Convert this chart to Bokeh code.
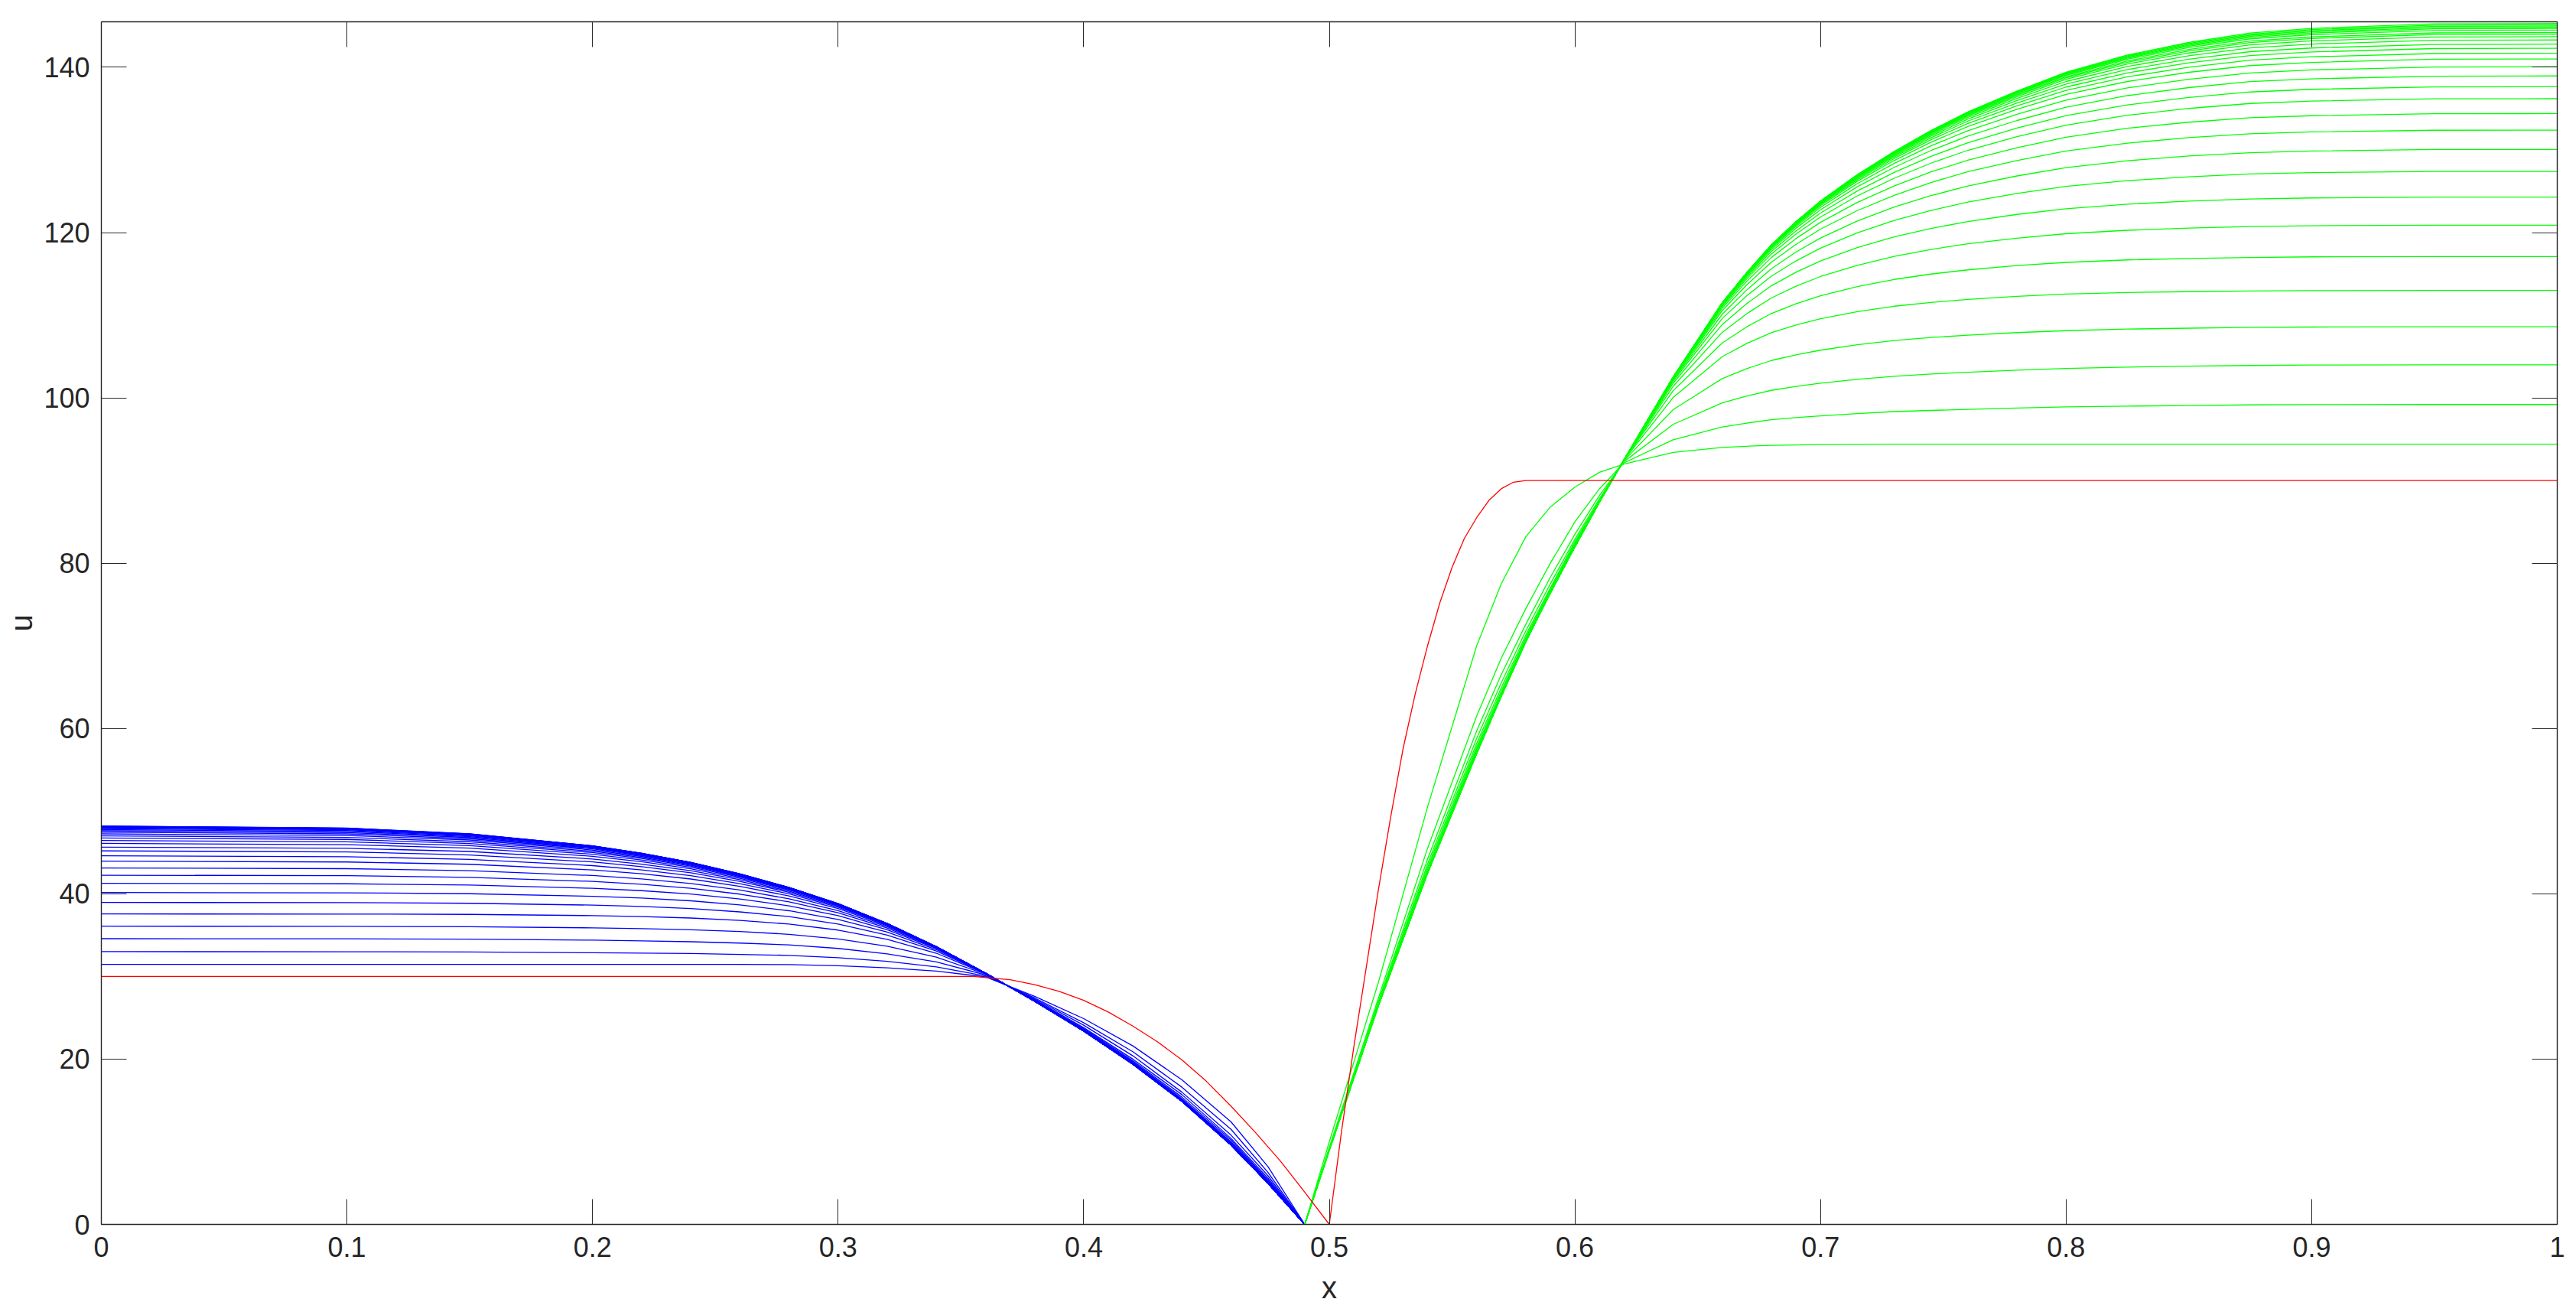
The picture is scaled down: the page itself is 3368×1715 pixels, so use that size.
from bokeh.plotting import figure
from bokeh.models import Range1d, FixedTicker, LinearAxis, CustomLabelingPolicy
from bokeh.embed import file_html
from bokeh.resources import INLINE

# ---------------- data ----------------
x_blue = [0, 0.1, 0.15, 0.2, 0.22, 0.24, 0.26, 0.28, 0.30, 0.32, 0.34, 0.36,
          0.38, 0.40, 0.42, 0.44, 0.46, 0.475, 0.49]
x_green = [0.49, 0.50, 0.52, 0.54, 0.56, 0.57, 0.58, 0.59, 0.60, 0.61,
           0.62, 0.64, 0.66, 0.67, 0.68, 0.69, 0.70, 0.715, 0.73, 0.745, 0.76, 0.78, 0.80,
           0.825, 0.85, 0.875, 0.90, 0.95, 1.0]

x_red = [0, 0.355, 0.37, 0.38, 0.39, 0.40, 0.41, 0.42, 0.43, 0.44, 0.45, 0.46, 0.47, 0.48, 0.49, 0.50,
         0.505, 0.51, 0.515, 0.52, 0.525, 0.53, 0.535, 0.54, 0.545, 0.55, 0.555, 0.56, 0.565, 0.57,
         0.575, 0.58, 1.0]
u_red = [30, 30, 29.6, 29.0, 28.2, 27.1, 25.7, 24.0, 22.1, 19.9, 17.3, 14.3, 11.1, 7.7, 3.9, 0,
         11.3, 21.5, 31.0, 40.5, 49.3, 57.5, 64.2, 70.0, 75.2, 79.5, 83.0, 85.5, 87.6, 89.0,
         89.8, 90, 90]

blue_01 = [31.45, 31.45, 31.45, 31.45, 31.45, 31.45, 31.45, 31.44, 31.3, 31.05, 30.65, 29.95, 27.6, 24.9, 21.6, 17.5, 12.4, 7.0, 0]
blue_02 = [33.0, 32.99, 32.96, 32.87, 32.83, 32.77, 32.67, 32.55, 32.26, 31.82, 31.15, 30.06, 27.4, 24.4, 20.9, 16.6, 11.5, 6.3, 0]
blue_03 = [34.57, 34.55, 34.51, 34.39, 34.31, 34.2, 34.04, 33.81, 33.39, 32.74, 31.75, 30.19, 27.3, 24.1, 20.4, 16.0, 10.8, 5.9, 0]
blue_04 = [36.08, 36.06, 36.02, 35.88, 35.79, 35.65, 35.43, 35.1, 34.53, 33.66, 32.33, 30.29, 27.2, 23.8, 20.0, 15.7, 10.4, 5.6, 0]
blue_05 = [37.56, 37.55, 37.51, 37.36, 37.24, 37.07, 36.78, 36.34, 35.61, 34.48, 32.81, 30.35, 27.1, 23.7, 19.8, 15.4, 10.2, 5.4, 0]
blue_06 = [38.95, 38.93, 38.85, 38.63, 38.46, 38.21, 37.81, 37.24, 36.34, 35.0, 33.07, 30.38, 27.1, 23.6, 19.7, 15.2, 10.0, 5.3, 0]
blue_07 = [40.15, 40.12, 40.01, 39.7, 39.48, 39.15, 38.66, 37.95, 36.9, 35.37, 33.25, 30.39, 27.05, 23.5, 19.6, 15.1, 9.85, 5.2, 0]
blue_08 = [41.26, 41.21, 41.06, 40.66, 40.38, 39.97, 39.37, 38.54, 37.35, 35.65, 33.37, 30.39, 27.0, 23.5, 19.5, 15.05, 9.8, 5.1, 0]
blue_09 = [42.25, 42.19, 41.99, 41.5, 41.15, 40.67, 39.96, 39.02, 37.7, 35.86, 33.45, 30.4, 27.0, 23.45, 19.5, 15.0, 9.7, 5.1, 0]
blue_10 = [43.12, 43.04, 42.8, 42.21, 41.8, 41.24, 40.45, 39.39, 37.97, 36.01, 33.5, 30.4, 27.0, 23.45, 19.45, 14.95, 9.7, 5.05, 0]
blue_11 = [43.95, 43.85, 43.57, 42.89, 42.42, 41.79, 40.9, 39.74, 38.21, 36.14, 33.54, 30.4, 27.0, 23.4, 19.45, 14.95, 9.65, 5.05, 0]
blue_12 = [44.6, 44.49, 44.17, 43.41, 42.89, 42.2, 41.23, 39.99, 38.37, 36.23, 33.56, 30.4, 27.0, 23.4, 19.4, 14.9, 9.6, 5.0, 0]
blue_13 = [45.19, 45.07, 44.7, 43.86, 43.29, 42.54, 41.5, 40.19, 38.49, 36.28, 33.58, 30.4, 27.0, 23.4, 19.4, 14.9, 9.6, 5.0, 0]
blue_14 = [45.65, 45.51, 45.12, 44.21, 43.59, 42.79, 41.7, 40.32, 38.58, 36.32, 33.59, 30.4, 27.0, 23.4, 19.4, 14.9, 9.6, 5.0, 0]
blue_15 = [46.1, 45.95, 45.52, 44.54, 43.88, 43.03, 41.88, 40.45, 38.65, 36.35, 33.59, 30.4, 27.0, 23.4, 19.4, 14.9, 9.6, 5.0, 0]
blue_16 = [46.45, 46.29, 45.83, 44.79, 44.1, 43.21, 42.01, 40.53, 38.7, 36.37, 33.6, 30.4, 27.0, 23.4, 19.4, 14.9, 9.6, 5.0, 0]
blue_17 = [46.75, 46.58, 46.09, 44.99, 44.27, 43.35, 42.11, 40.59, 38.73, 36.38, 33.6, 30.4, 27.0, 23.4, 19.4, 14.9, 9.6, 5.0, 0]
blue_18 = [47.0, 46.82, 46.3, 45.15, 44.4, 43.45, 42.18, 40.64, 38.75, 36.39, 33.6, 30.4, 27.0, 23.4, 19.4, 14.9, 9.6, 5.0, 0]
blue_19 = [47.25, 47.06, 46.51, 45.3, 44.52, 43.54, 42.24, 40.67, 38.77, 36.39, 33.6, 30.4, 27.0, 23.4, 19.4, 14.9, 9.6, 5.0, 0]
blue_20 = [47.45, 47.25, 46.67, 45.43, 44.62, 43.61, 42.29, 40.7, 38.78, 36.4, 33.6, 30.4, 27.0, 23.4, 19.4, 14.9, 9.6, 5.0, 0]
blue_21 = [47.62, 47.41, 46.81, 45.52, 44.69, 43.66, 42.32, 40.71, 38.79, 36.4, 33.6, 30.4, 27.0, 23.4, 19.4, 14.9, 9.6, 5.0, 0]
blue_22 = [47.76, 47.54, 46.92, 45.6, 44.75, 43.7, 42.35, 40.73, 38.8, 36.4, 33.6, 30.4, 27.0, 23.4, 19.4, 14.9, 9.6, 5.0, 0]
blue_23 = [47.88, 47.65, 47.01, 45.66, 44.8, 43.73, 42.37, 40.74, 38.8, 36.4, 33.6, 30.4, 27.0, 23.4, 19.4, 14.9, 9.6, 5.0, 0]
blue_24 = [47.97, 47.74, 47.08, 45.7, 44.83, 43.76, 42.38, 40.74, 38.8, 36.4, 33.6, 30.4, 27.0, 23.4, 19.4, 14.9, 9.6, 5.0, 0]
blue_25 = [48.04, 47.8, 47.14, 45.73, 44.85, 43.77, 42.39, 40.75, 38.8, 36.4, 33.6, 30.4, 27.0, 23.4, 19.4, 14.9, 9.6, 5.0, 0]
blue_26 = [48.1, 47.86, 47.18, 45.76, 44.87, 43.78, 42.4, 40.75, 38.8, 36.4, 33.6, 30.4, 27.0, 23.4, 19.4, 14.9, 9.6, 5.0, 0]
blue_27 = [48.14, 47.9, 47.21, 45.78, 44.88, 43.79, 42.4, 40.75, 38.8, 36.4, 33.6, 30.4, 27.0, 23.4, 19.4, 14.9, 9.6, 5.0, 0]
blue_28 = [48.17, 47.92, 47.23, 45.79, 44.89, 43.8, 42.4, 40.75, 38.8, 36.4, 33.6, 30.4, 27.0, 23.4, 19.4, 14.9, 9.6, 5.0, 0]
blue_29 = [48.19, 47.94, 47.24, 45.8, 44.9, 43.8, 42.4, 40.75, 38.8, 36.4, 33.6, 30.4, 27.0, 23.4, 19.4, 14.9, 9.6, 5.0, 0]
blue_30 = [48.2, 47.95, 47.25, 45.8, 44.9, 43.8, 42.4, 40.75, 38.8, 36.4, 33.6, 30.4, 27.0, 23.4, 19.4, 14.9, 9.6, 5.0, 0]

green_01 = [0, 10.0, 29.3, 50.5, 70.0, 77.5, 83.2, 86.8, 89.2, 91.0,
            92.0, 93.4, 94.0, 94.15, 94.25, 94.3, 94.35, 94.38, 94.4, 94.4, 94.4, 94.4, 94.4, 94.4, 94.4, 94.4, 94.4, 94.4, 94.4]
green_02 = [0, 9.3, 27.4, 45.5, 61.5, 68.5, 74.5, 80.0, 85.0, 89.0,
            92.14, 94.93, 96.47, 96.95, 97.35, 97.61, 97.83, 98.1, 98.34, 98.48, 98.61, 98.77, 98.9, 99.0, 99.08, 99.15, 99.18, 99.2, 99.2]
green_03 = [0, 9.2, 27.0, 44.2, 59.7, 66.5, 72.6, 78.3, 83.5, 88.2,
            92.29, 96.79, 99.4, 100.23, 100.91, 101.38, 101.77, 102.24, 102.62, 102.88, 103.1, 103.36, 103.56, 103.72, 103.83, 103.92, 103.97, 104.0, 104.0]
green_04 = [0, 9.1, 26.8, 43.6, 58.8, 65.5, 71.8, 77.5, 82.9, 87.8,
            92.41, 98.58, 102.33, 103.54, 104.52, 105.2, 105.77, 106.42, 106.93, 107.3, 107.58, 107.9, 108.13, 108.32, 108.43, 108.53, 108.57, 108.6, 108.6]
green_05 = [0, 9.05, 26.7, 43.2, 58.2, 64.9, 71.3, 77.0, 82.6, 87.6,
            92.47, 100.05, 104.98, 106.59, 107.89, 108.82, 109.57, 110.43, 111.09, 111.55, 111.92, 112.28, 112.56, 112.75, 112.85, 112.94, 112.98, 113.0, 113.0]
green_06 = [0, 9.0, 26.6, 42.9, 57.8, 64.5, 71.0, 76.8, 82.4, 87.5,
            92.49, 100.85, 106.65, 108.6, 110.21, 111.39, 112.35, 113.47, 114.33, 114.98, 115.49, 116.0, 116.39, 116.69, 116.86, 116.99, 117.06, 117.1, 117.1]
green_07 = [0, 9.0, 26.55, 42.75, 57.5, 64.2, 70.8, 76.6, 82.25, 87.45,
            92.49, 101.4, 107.93, 110.19, 112.09, 113.51, 114.68, 116.04, 117.12, 117.96, 118.64, 119.32, 119.86, 120.28, 120.54, 120.73, 120.83, 120.89, 120.9]
green_08 = [0, 9.0, 26.5, 42.6, 57.3, 64.05, 70.7, 76.5, 82.15, 87.4,
            92.5, 101.77, 108.88, 111.41, 113.56, 115.2, 116.57, 118.18, 119.47, 120.5, 121.34, 122.2, 122.89, 123.44, 123.8, 124.06, 124.19, 124.29, 124.3]
green_09 = [0, 9.0, 26.5, 42.55, 57.2, 64.0, 70.6, 76.45, 82.1, 87.4,
            92.5, 102.02, 109.6, 112.36, 114.73, 116.57, 118.12, 119.97, 121.46, 122.68, 123.69, 124.73, 125.58, 126.28, 126.75, 127.09, 127.25, 127.39, 127.4]
green_10 = [0, 9.0, 26.5, 42.5, 57.1, 63.95, 70.55, 76.4, 82.05, 87.4,
            92.5, 102.18, 110.12, 113.07, 115.63, 117.64, 119.34, 121.4, 123.08, 124.47, 125.63, 126.85, 127.85, 128.69, 129.26, 129.67, 129.87, 130.05, 130.06]
green_11 = [0, 9.0, 26.5, 42.5, 57.0, 63.9, 70.5, 76.4, 82.0, 87.4,
            92.5, 102.31, 110.56, 113.68, 116.41, 118.57, 120.42, 122.66, 124.51, 126.06, 127.36, 128.72, 129.86, 130.82, 131.48, 131.95, 132.18, 132.38, 132.4]
green_12 = [0, 9.0, 26.5, 42.5, 57.0, 63.9, 70.5, 76.4, 82.0, 87.4,
            92.5, 102.39, 110.85, 114.11, 116.98, 119.27, 121.24, 123.65, 125.64, 127.34, 128.76, 130.27, 131.54, 132.62, 133.35, 133.89, 134.14, 134.38, 134.4]
green_13 = [0, 9.0, 26.5, 42.5, 57.0, 63.9, 70.5, 76.4, 82.0, 87.4,
            92.5, 102.43, 111.07, 114.42, 117.4, 119.81, 121.88, 124.44, 126.57, 128.4, 129.95, 131.6, 133.0, 134.19, 135.02, 135.62, 135.91, 136.18, 136.2]
green_14 = [0, 9.0, 26.5, 42.5, 57.0, 63.9, 70.5, 76.4, 82.0, 87.4,
            92.5, 102.46, 111.2, 114.64, 117.71, 120.19, 122.36, 125.03, 127.28, 129.22, 130.87, 132.64, 134.15, 135.45, 136.35, 137.01, 137.33, 137.62, 137.65]
green_15 = [0, 9.0, 26.5, 42.5, 57.0, 63.9, 70.5, 76.4, 82.0, 87.4,
            92.5, 102.48, 111.31, 114.81, 117.95, 120.52, 122.75, 125.54, 127.89, 129.93, 131.68, 133.56, 135.17, 136.57, 137.54, 138.26, 138.6, 138.92, 138.95]
green_16 = [0, 9.0, 26.5, 42.5, 57.0, 63.9, 70.5, 76.4, 82.0, 87.4,
            92.5, 102.49, 111.38, 114.92, 118.12, 120.75, 123.05, 125.92, 128.36, 130.49, 132.33, 134.31, 136.02, 137.51, 138.55, 139.31, 139.68, 140.03, 140.06]
green_17 = [0, 9.0, 26.5, 42.5, 57.0, 63.9, 70.5, 76.4, 82.0, 87.4,
            92.5, 102.49, 111.43, 115.0, 118.24, 120.91, 123.26, 126.21, 128.72, 130.93, 132.84, 134.91, 136.71, 138.28, 139.39, 140.2, 140.59, 140.97, 141.0]
green_18 = [0, 9.0, 26.5, 42.5, 57.0, 63.9, 70.5, 76.4, 82.0, 87.4,
            92.5, 102.5, 111.45, 115.05, 118.31, 121.01, 123.4, 126.39, 128.96, 131.23, 133.2, 135.33, 137.2, 138.84, 140.01, 140.86, 141.27, 141.66, 141.7]
green_19 = [0, 9.0, 26.5, 42.5, 57.0, 63.9, 70.5, 76.4, 82.0, 87.4,
            92.5, 102.5, 111.47, 115.08, 118.37, 121.09, 123.5, 126.54, 129.15, 131.47, 133.49, 135.68, 137.61, 139.32, 140.53, 141.42, 141.85, 142.26, 142.3]
green_20 = [0, 9.0, 26.5, 42.5, 57.0, 63.9, 70.5, 76.4, 82.0, 87.4,
            92.5, 102.5, 111.48, 115.1, 118.41, 121.16, 123.59, 126.66, 129.31, 131.67, 133.73, 135.98, 137.96, 139.72, 140.97, 141.89, 142.33, 142.76, 142.8]
green_21 = [0, 9.0, 26.5, 42.5, 57.0, 63.9, 70.5, 76.4, 82.0, 87.4,
            92.5, 102.5, 111.49, 115.12, 118.44, 121.2, 123.65, 126.75, 129.44, 131.84, 133.94, 136.24, 138.28, 140.09, 141.39, 142.35, 142.81, 143.26, 143.3]
green_22 = [0, 9.0, 26.5, 42.5, 57.0, 63.9, 70.5, 76.4, 82.0, 87.4,
            92.5, 102.5, 111.49, 115.13, 118.46, 121.23, 123.7, 126.83, 129.54, 131.97, 134.11, 136.45, 138.54, 140.4, 141.73, 142.71, 143.19, 143.66, 143.7]
green_23 = [0, 9.0, 26.5, 42.5, 57.0, 63.9, 70.5, 76.4, 82.0, 87.4,
            92.5, 102.5, 111.5, 115.14, 118.47, 121.25, 123.72, 126.87, 129.6, 132.06, 134.22, 136.6, 138.72, 140.61, 141.98, 142.99, 143.48, 143.96, 144.0]
green_24 = [0, 9.0, 26.5, 42.5, 57.0, 63.9, 70.5, 76.4, 82.0, 87.4,
            92.5, 102.5, 111.5, 115.14, 118.48, 121.27, 123.75, 126.9, 129.65, 132.12, 134.3, 136.7, 138.84, 140.76, 142.15, 143.17, 143.67, 144.16, 144.2]
green_25 = [0, 9.0, 26.5, 42.5, 57.0, 63.9, 70.5, 76.4, 82.0, 87.4,
            92.5, 102.5, 111.5, 115.15, 118.49, 121.28, 123.76, 126.94, 129.7, 132.19, 134.39, 136.83, 139.0, 140.97, 142.38, 143.44, 143.95, 144.45, 144.5]
green_26 = [0, 9.0, 26.5, 42.5, 57.0, 63.9, 70.5, 76.4, 82.0, 87.4,
            92.5, 102.5, 111.5, 115.15, 118.5, 121.29, 123.78, 126.96, 129.73, 132.24, 134.45, 136.91, 139.11, 141.1, 142.54, 143.62, 144.14, 144.65, 144.7]
green_27 = [0, 9.0, 26.5, 42.5, 57.0, 63.9, 70.5, 76.4, 82.0, 87.4,
            92.5, 102.5, 111.5, 115.15, 118.5, 121.29, 123.78, 126.97, 129.75, 132.27, 134.5, 136.97, 139.19, 141.2, 142.66, 143.75, 144.28, 144.8, 144.85]
green_28 = [0, 9.0, 26.5, 42.5, 57.0, 63.9, 70.5, 76.4, 82.0, 87.4,
            92.5, 102.5, 111.5, 115.15, 118.5, 121.3, 123.79, 126.98, 129.77, 132.3, 134.54, 137.02, 139.27, 141.3, 142.78, 143.88, 144.42, 144.95, 145.0]
green_29 = [0, 9.0, 26.5, 42.5, 57.0, 63.9, 70.5, 76.4, 82.0, 87.4,
            92.5, 102.5, 111.5, 115.15, 118.5, 121.3, 123.8, 126.99, 129.79, 132.32, 134.57, 137.08, 139.34, 141.39, 142.89, 144.01, 144.56, 145.1, 145.15]
green_30 = [0, 9.0, 26.5, 42.5, 57.0, 63.9, 70.5, 76.4, 82.0, 87.4,
            92.5, 102.5, 111.5, 115.15, 118.5, 121.3, 123.8, 127.0, 129.8, 132.34, 134.6, 137.12, 139.4, 141.48, 143.0, 144.14, 144.7, 145.25, 145.3]

x_ticks = [0, 0.1, 0.2, 0.3, 0.4, 0.5, 0.6, 0.7, 0.8, 0.9, 1]
x_tick_labels = ["0", "0.1", "0.2", "0.3", "0.4", "0.5", "0.6", "0.7", "0.8", "0.9", "1"]
y_ticks = [0, 20, 40, 60, 80, 100, 120, 140]
y_tick_labels = ["0", "20", "40", "60", "80", "100", "120", "140"]

BLUE = [blue_01, blue_02, blue_03, blue_04, blue_05, blue_06, blue_07, blue_08, blue_09, blue_10,
        blue_11, blue_12, blue_13, blue_14, blue_15, blue_16, blue_17, blue_18, blue_19, blue_20,
        blue_21, blue_22, blue_23, blue_24, blue_25, blue_26, blue_27, blue_28, blue_29, blue_30]
GREEN = [green_01, green_02, green_03, green_04, green_05, green_06, green_07, green_08, green_09, green_10,
         green_11, green_12, green_13, green_14, green_15, green_16, green_17, green_18, green_19, green_20,
         green_21, green_22, green_23, green_24, green_25, green_26, green_27, green_28, green_29, green_30]

for c in BLUE:
    assert len(c) == len(x_blue), len(c)
for c in GREEN:
    assert len(c) == len(x_green), len(c)
assert len(x_red) == len(u_red)

# ---------------- figure ----------------
INK = "#262626"
FONT = "Liberation Sans"

p = figure(frame_width=3211, frame_height=1572,
           x_range=Range1d(0, 1), y_range=Range1d(0, 145.5),
           output_backend="svg", toolbar_location=None,
           min_border_left=132, min_border_right=20, min_border_top=28, min_border_bottom=10,
           x_axis_label="x", y_axis_label="u")
p.grid.visible = False
p.outline_line_color = None
p.background_fill_color = "white"
p.border_fill_color = "white"

HIDE_LABELS = "for (let i = 0; i < indices.size; i++) { indices.unset(i) }\nreturn indices"


def style_axis(ax, ticks, labels, show_labels):
    ax.ticker = FixedTicker(ticks=ticks)
    ax.major_label_overrides = {t: l for t, l in zip(ticks, labels)}
    ax.major_tick_in = 33
    ax.major_tick_out = 0
    ax.minor_tick_in = 0
    ax.minor_tick_out = 0
    ax.axis_line_color = INK
    ax.axis_line_width = 1.4
    ax.major_tick_line_color = INK
    ax.major_tick_line_width = 1
    ax.major_label_text_font = FONT
    ax.major_label_text_color = INK
    if show_labels:
        ax.major_label_text_font_size = "36px"
    else:
        ax.major_label_text_font_size = "2px"
        ax.major_label_standoff = 0
        ax.major_label_policy = CustomLabelingPolicy(code=HIDE_LABELS)
        ax.axis_label = None


style_axis(p.xaxis[0], x_ticks, x_tick_labels, True)
style_axis(p.yaxis[0], y_ticks, y_tick_labels, True)
p.xaxis[0].major_label_standoff = 16
p.yaxis[0].major_label_standoff = 15
for ax in (p.xaxis[0], p.yaxis[0]):
    ax.axis_label_text_font = FONT
    ax.axis_label_text_font_style = "normal"
    ax.axis_label_text_font_size = "40px"
    ax.axis_label_text_color = INK
p.xaxis[0].axis_label_standoff = 15
p.yaxis[0].axis_label_standoff = 4

top_axis = LinearAxis()
p.add_layout(top_axis, "above")
style_axis(top_axis, x_ticks, x_tick_labels, False)
right_axis = LinearAxis()
p.add_layout(right_axis, "right")
style_axis(right_axis, y_ticks, y_tick_labels, False)

p.multi_line(xs=[x_blue] * len(BLUE), ys=BLUE, line_color="#0000ff", line_width=1.3)
p.multi_line(xs=[x_green] * len(GREEN), ys=GREEN, line_color="#00ff00", line_width=1.3)
p.line(x_red, u_red, line_color="#ff0000", line_width=1.3)

open("out.html", "w").write(file_html(p, INLINE))
